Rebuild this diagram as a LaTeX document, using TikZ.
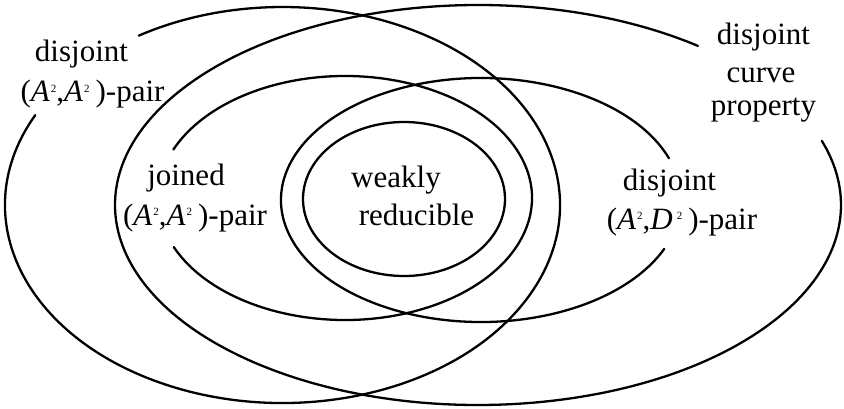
\documentclass[tikz,border=0pt]{standalone}
\usepackage{fontspec}
\setmainfont{Liberation Serif}
\newcommand\tsq{\hspace{1pt}\raisebox{9.5pt}{\fontsize{11}{11}\selectfont 2}}
\begin{document}
\begin{tikzpicture}[x=1pt,y=1pt]
\tikzset{
  ring/.style={line width=2.3pt, line cap=round},
  lab/.style={anchor=base, inner sep=0pt, font=\fontsize{31}{36}\selectfont}
}
\useasboundingbox (0,0) rectangle (844,408);
% big left ellipse: disjoint (A2,A2)-pair
\draw[ring] (282.5,203) ++(153:277.5pt and 198pt)
  arc[start angle=153, end angle=481.2, x radius=277.5pt, y radius=198pt];
% big right ellipse: disjoint curve property
\draw[ring] (478,203) ++(52.7:363pt and 200pt)
  arc[start angle=52.7, end angle=378.7, x radius=363pt, y radius=200pt];
% joined (A2,A2)-pair
\draw[ring] (345,210) ++(203.7:187pt and 122pt)
  arc[start angle=203.7, end angle=516.6, x radius=187pt, y radius=122pt];
% disjoint (A2,D2)-pair
\draw[ring] (481,208) ++(20:200pt and 122pt)
  arc[start angle=20, end angle=336.4, x radius=200pt, y radius=122pt];
% weakly reducible
\draw[ring] (404,209) ellipse[x radius=101pt, y radius=77pt];
% labels
\node[lab] (lLa) at (81.5,346) {disjoint};
\node[lab] (lLb) at (92.5,306) {(\textit{A}\tsq,\textit{A}\tsq\hspace{6pt})-pair};
\node[lab] (lJa) at (186,223) {joined};
\node[lab] (lJb) at (195,183) {(\textit{A}\tsq,\textit{A}\tsq\hspace{6pt})-pair};
\node[lab] (lWa) at (396,221) {weakly};
\node[lab] (lWb) at (416.5,183) {reducible};
\node[lab] (lDa) at (669.5,218) {disjoint};
\node[lab] (lDb) at (682,179) {(\textit{A}\tsq,\textit{D}\hspace{3pt}\tsq\hspace{6pt})-pair};
\node[lab] (lRa) at (763.5,363) {disjoint};
\node[lab] (lRb) at (761,326) {curve};
\node[lab] (lRc) at (763.5,293) {property};
\end{tikzpicture}
\end{document}
